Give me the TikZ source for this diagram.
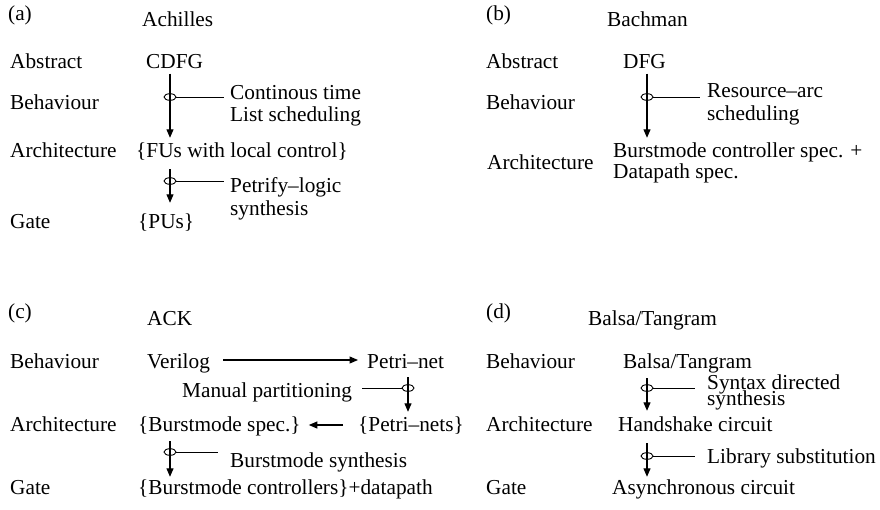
\documentclass[tikz,border=0pt]{standalone}
\usepackage{fontspec}
\setmainfont{Liberation Serif}
\usetikzlibrary{arrows.meta,shapes.geometric}
\begin{document}
\begin{tikzpicture}[x=1pt,y=-1pt,
  txt/.style={anchor=base west,inner sep=0pt,text height=15.3pt,text depth=5.3pt,
              font=\fontsize{21.3}{24}\selectfont},
  flow/.style={line width=1.1pt,-{Triangle[length=8.5pt,width=7pt]}},
  tap/.style={draw,ellipse,line width=0.9pt,minimum width=12pt,minimum height=6.6pt,inner sep=0pt},
  lead/.style={line width=0.9pt}]
\useasboundingbox (0,0) rectangle (880,509);

% ---------- (a) Achilles ----------
\node[txt] (pa)   at (8,20)    {(a)};
\node[txt] (tia)  at (142,26)  {Achilles};
\node[txt] (abA)  at (10,68)   {Abstract};
\node[txt] (cdfg) at (146,68)  {CDFG};
\node[txt] (beA)  at (10,109)  {Behaviour};
\node[txt] (ct)   at (230,99)  {Continous time};
\node[txt] (ls)   at (230,121) {List scheduling};
\node[txt] (arA)  at (10,157)  {Architecture};
\node[txt] (fus)  at (136,157) {\{FUs with local control\}};
\node[txt] (pl)   at (230,192) {Petrify\textendash logic};
\node[txt] (sy)   at (230,215) {synthesis};
\node[txt] (gaA)  at (10,228)  {Gate};
\node[txt] (pus)  at (138,228) {\{PUs\}};
\node[tap] (ta1) at (170,97) {};
\node[tap] (ta2) at (170,181) {};
\draw[flow,shorten >=3.7pt] (cdfg.south -| ta1) -- (fus.north -| ta1);
\draw[flow,shorten <=6.7pt,shorten >=9.7pt] (fus.south -| ta2) -- (pus.north -| ta2);
\draw[lead,shorten >=6pt] (ta1.east) -- (ta1.east -| ct.west);
\draw[lead,shorten >=6pt] (ta2.east) -- (ta2.east -| pl.west);

% ---------- (b) Bachman ----------
\node[txt] (pb)   at (486,20)  {(b)};
\node[txt] (tib)  at (607,26)  {Bachman};
\node[txt] (abB)  at (486,68)  {Abstract};
\node[txt] (dfg)  at (623,68)  {DFG};
\node[txt] (beB)  at (486,109) {Behaviour};
\node[txt] (ra)   at (707,97)  {Resource\textendash arc};
\node[txt] (sc)   at (707,120) {scheduling};
\node[txt] (arB)  at (487,169) {Architecture};
\node[txt] (bcs)  at (613,157) {Burstmode controller spec. +};
\node[txt] (dps)  at (613,178) {Datapath spec.};
\node[tap] (tb1) at (647,97) {};
\draw[flow,shorten >=3.7pt] (dfg.south -| tb1) -- (bcs.north -| tb1);
\draw[lead,shorten >=7pt] (tb1.east) -- (tb1.east -| ra.west);

% ---------- (c) ACK ----------
\node[txt] (pc)   at (8,318)   {(c)};
\node[txt] (tic)  at (147,325) {ACK};
\node[txt] (beC)  at (10,368)  {Behaviour};
\node[txt] (ver)  at (147,368) {Verilog};
\node[txt] (pn)   at (367,368) {Petri\textendash net};
\node[txt] (mp)   at (182,397) {Manual partitioning};
\node[txt] (arC)  at (10,431)  {Architecture};
\node[txt] (bms)  at (138,431) {\{Burstmode spec.\}};
\node[txt] (pns)  at (358,431) {\{Petri\textendash nets\}};
\node[txt] (bsy)  at (230,467) {Burstmode synthesis};
\node[txt] (gaC)  at (10,494)  {Gate};
\node[txt] (bmc)  at (138,494) {\{Burstmode controllers\}+datapath};
\node[tap] (tc1) at (408,388) {};
\node[tap] (tc2) at (170,452) {};
\draw[flow,shorten <=13pt,shorten >=9pt] ([yshift=3pt]ver.east) -- ([yshift=3pt]pn.west);
\draw[flow,shorten <=3.7pt,shorten >=3.7pt] (pn.south -| tc1) -- (pns.north -| tc1);
\draw[lead,shorten >=10pt] (tc1.west) -- (tc1.west -| mp.east);
\draw[flow,shorten <=15pt,shorten >=8pt] ([yshift=1pt]pns.west) -- ([yshift=1pt]bms.east);
\draw[flow,shorten <=4.7pt,shorten >=1.7pt] (bms.south -| tc2) -- (bmc.north -| tc2);
\draw[lead,shorten >=12pt] (tc2.east) -- (tc2.east -| bsy.west);

% ---------- (d) Balsa/Tangram ----------
\node[txt] (pd)   at (486,318) {(d)};
\node[txt] (tid)  at (588,325) {Balsa/Tangram};
\node[txt] (beD)  at (486,368) {Behaviour};
\node[txt] (bt)   at (623,368) {Balsa/Tangram};
\node[txt] (sd)   at (707,389) {Syntax directed};
\node[txt] (sdy)  at (707,405) {synthesis};
\node[txt] (arD)  at (486,431) {Architecture};
\node[txt] (hs)   at (618,431) {Handshake circuit};
\node[txt] (lib)  at (707,463) {Library substitution};
\node[txt] (gaD)  at (486,494) {Gate};
\node[txt] (asy)  at (612,494) {Asynchronous circuit};
\node[tap] (td1) at (647,388) {};
\node[tap] (td2) at (647,456) {};
\draw[flow,shorten <=4.7pt,shorten >=4.7pt] (bt.south -| td1) -- (hs.north -| td1);
\draw[lead,shorten >=12pt] (td1.east) -- (td1.east -| sd.west);
\draw[flow,shorten <=6.7pt,shorten >=1.7pt] (hs.south -| td2) -- (asy.north -| td2);
\draw[lead,shorten >=12pt] (td2.east) -- (td2.east -| lib.west);
\end{tikzpicture}
\end{document}
